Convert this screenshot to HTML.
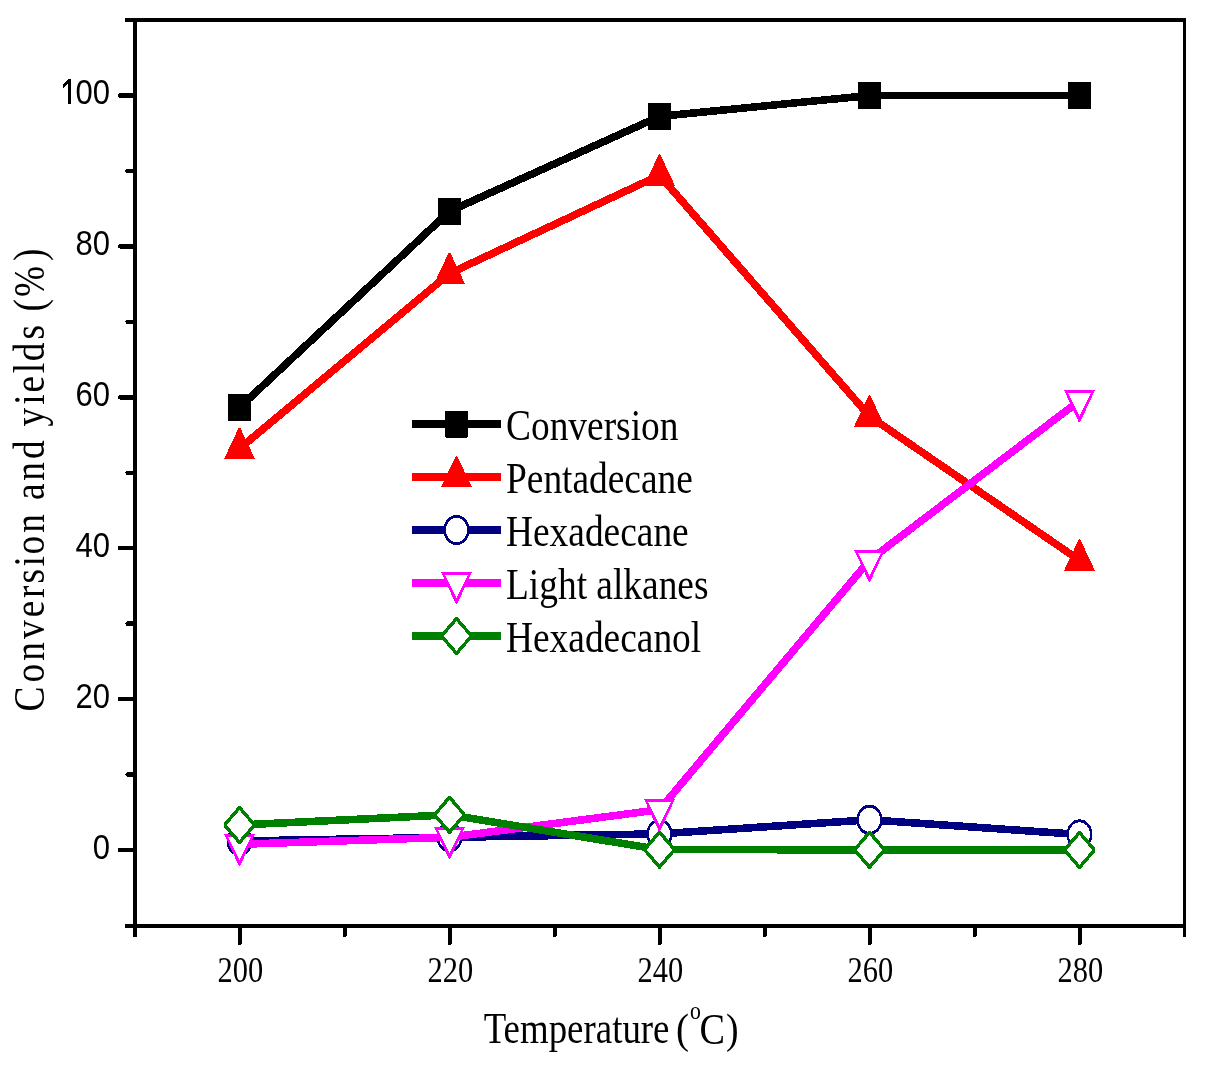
<!DOCTYPE html>
<html><head><meta charset="utf-8"><title>Conversion and yields vs Temperature</title>
<style>html,body{margin:0;padding:0;background:#fff;overflow:hidden}svg{display:block;will-change:transform}</style>
</head><body>
<svg shape-rendering="crispEdges" width="1205" height="1073" viewBox="0 0 1205 1073">
<rect x="133" y="18" width="4" height="919" fill="#000"/>
<rect x="1183" y="18" width="3" height="919" fill="#000"/>
<rect x="125" y="18" width="1061" height="4" fill="#000"/>
<rect x="125" y="924" width="1061" height="4" fill="#000"/>
<line x1="120" y1="850" x2="135" y2="850" stroke="#000" stroke-width="4.4" stroke-linecap="round"/>
<line x1="120" y1="699.1" x2="135" y2="699.1" stroke="#000" stroke-width="4.4" stroke-linecap="round"/>
<line x1="120" y1="548.2" x2="135" y2="548.2" stroke="#000" stroke-width="4.4" stroke-linecap="round"/>
<line x1="120" y1="397.3" x2="135" y2="397.3" stroke="#000" stroke-width="4.4" stroke-linecap="round"/>
<line x1="120" y1="246.4" x2="135" y2="246.4" stroke="#000" stroke-width="4.4" stroke-linecap="round"/>
<line x1="120" y1="95.5" x2="135" y2="95.5" stroke="#000" stroke-width="4.4" stroke-linecap="round"/>
<line x1="127.5" y1="774.55" x2="135" y2="774.55" stroke="#000" stroke-width="4.4" stroke-linecap="round"/>
<line x1="127.5" y1="623.65" x2="135" y2="623.65" stroke="#000" stroke-width="4.4" stroke-linecap="round"/>
<line x1="127.5" y1="472.75" x2="135" y2="472.75" stroke="#000" stroke-width="4.4" stroke-linecap="round"/>
<line x1="127.5" y1="321.85" x2="135" y2="321.85" stroke="#000" stroke-width="4.4" stroke-linecap="round"/>
<line x1="127.5" y1="170.95" x2="135" y2="170.95" stroke="#000" stroke-width="4.4" stroke-linecap="round"/>
<line x1="240" y1="926" x2="240" y2="943" stroke="#000" stroke-width="4" stroke-linecap="round"/>
<line x1="450" y1="926" x2="450" y2="943" stroke="#000" stroke-width="4" stroke-linecap="round"/>
<line x1="660" y1="926" x2="660" y2="943" stroke="#000" stroke-width="4" stroke-linecap="round"/>
<line x1="870" y1="926" x2="870" y2="943" stroke="#000" stroke-width="4" stroke-linecap="round"/>
<line x1="1080" y1="926" x2="1080" y2="943" stroke="#000" stroke-width="4" stroke-linecap="round"/>
<line x1="345" y1="926" x2="345" y2="935" stroke="#000" stroke-width="4" stroke-linecap="round"/>
<line x1="555" y1="926" x2="555" y2="935" stroke="#000" stroke-width="4" stroke-linecap="round"/>
<line x1="765" y1="926" x2="765" y2="935" stroke="#000" stroke-width="4" stroke-linecap="round"/>
<line x1="975" y1="926" x2="975" y2="935" stroke="#000" stroke-width="4" stroke-linecap="round"/>
<text transform="translate(110.1,858.6) scale(0.862,1)" text-anchor="end" font-family="Liberation Sans, sans-serif" font-size="36">0</text>
<text transform="translate(110.1,707.7) scale(0.862,1)" text-anchor="end" font-family="Liberation Sans, sans-serif" font-size="36">20</text>
<text transform="translate(110.1,556.8) scale(0.862,1)" text-anchor="end" font-family="Liberation Sans, sans-serif" font-size="36">40</text>
<text transform="translate(110.1,405.9) scale(0.862,1)" text-anchor="end" font-family="Liberation Sans, sans-serif" font-size="36">60</text>
<text transform="translate(110.1,255) scale(0.862,1)" text-anchor="end" font-family="Liberation Sans, sans-serif" font-size="36">80</text>
<text transform="translate(110.1,104.1) scale(0.862,1)" text-anchor="end" font-family="Liberation Sans, sans-serif" font-size="36">00</text>
<polygon fill="#000" points="71.2,79 71.2,104 68.2,104 68.2,83.2 62.8,88.2 62.8,85.2 68.8,79"/>
<text transform="translate(240.4,981.5) scale(0.847,1)" text-anchor="middle" font-family="Liberation Serif, serif" font-size="36">200</text>
<text transform="translate(450.4,981.5) scale(0.847,1)" text-anchor="middle" font-family="Liberation Serif, serif" font-size="36">220</text>
<text transform="translate(660.4,981.5) scale(0.847,1)" text-anchor="middle" font-family="Liberation Serif, serif" font-size="36">240</text>
<text transform="translate(870.4,981.5) scale(0.847,1)" text-anchor="middle" font-family="Liberation Serif, serif" font-size="36">260</text>
<text transform="translate(1080.4,981.5) scale(0.847,1)" text-anchor="middle" font-family="Liberation Serif, serif" font-size="36">280</text>
<text transform="translate(483.66,1043) scale(0.8385,1)" font-family="Liberation Serif, serif" font-size="44">Temperature</text>
<text transform="translate(676.1,1042.8) scale(0.93,1)" font-family="Liberation Serif, serif" font-size="42">(</text>
<text transform="translate(690.1,1018.5) scale(0.89,1)" font-family="Liberation Serif, serif" font-size="24.4">o</text>
<text transform="translate(699.5,1043.5) scale(0.85,1)" font-family="Liberation Serif, serif" font-size="45">C</text>
<text transform="translate(726,1042.8) scale(0.9,1)" font-family="Liberation Serif, serif" font-size="42">)</text>
<text transform="translate(43.8,711.5) rotate(-90) scale(0.85,1)" font-family="Liberation Serif, serif" font-size="44" x="0 34.13 59.72 85.31 110.9 133.61 150.65 170.57 184.79 210.37 235.96 248.75 271.47 297.06 322.64 335.44 361.02 375.24 397.96 412.18 437.76 457.68 470.47 487.51 530.14">Conversion and yields (%)</text>
<polyline fill="none" stroke="#000" stroke-width="7.6" stroke-linejoin="round" stroke-linecap="round" points="239.5,407.5 449.5,211.3 659.5,116.4 869.5,95.5 1079.5,95.5"/>
<rect x="228" y="394" width="23" height="27" rx="1" fill="#000"/>
<rect x="438" y="197.8" width="23" height="27" rx="1" fill="#000"/>
<rect x="648" y="102.9" width="23" height="27" rx="1" fill="#000"/>
<rect x="858" y="82" width="23" height="27" rx="1" fill="#000"/>
<rect x="1068" y="82" width="23" height="27" rx="1" fill="#000"/>
<polyline fill="none" stroke="#f00" stroke-width="7.6" stroke-linejoin="round" stroke-linecap="round" points="239.5,448.6 449.5,273.5 659.5,175.3 869.5,416.2 1079.5,560.3"/>
<polygon fill="#f00" points="238.8,427.6 240.2,427.6 255,459 224,459"/>
<polygon fill="#f00" points="448.8,252.5 450.2,252.5 465,283.9 434,283.9"/>
<polygon fill="#f00" points="658.8,154.3 660.2,154.3 675,185.7 644,185.7"/>
<polygon fill="#f00" points="868.8,395.2 870.2,395.2 885,426.6 854,426.6"/>
<polygon fill="#f00" points="1078.8,539.3 1080.2,539.3 1095,570.7 1064,570.7"/>
<polyline fill="none" stroke="#000080" stroke-width="7.6" stroke-linejoin="round" stroke-linecap="round" points="239.5,841 449.5,837.3 659.5,833.9 869.5,819.8 1079.5,834.5"/>
<ellipse cx="239.5" cy="841" rx="13" ry="15.1" fill="#000080"/><ellipse cx="239.5" cy="841" rx="10.6" ry="12.1" fill="#fff"/>
<ellipse cx="449.5" cy="837.3" rx="13" ry="15.1" fill="#000080"/><ellipse cx="449.5" cy="837.3" rx="10.6" ry="12.1" fill="#fff"/>
<ellipse cx="659.5" cy="833.9" rx="13" ry="15.1" fill="#000080"/><ellipse cx="659.5" cy="833.9" rx="10.6" ry="12.1" fill="#fff"/>
<ellipse cx="869.5" cy="819.8" rx="13" ry="15.1" fill="#000080"/><ellipse cx="869.5" cy="819.8" rx="10.6" ry="12.1" fill="#fff"/>
<ellipse cx="1079.5" cy="834.5" rx="13" ry="15.1" fill="#000080"/><ellipse cx="1079.5" cy="834.5" rx="10.6" ry="12.1" fill="#fff"/>
<polyline fill="none" stroke="#f0f" stroke-width="7.6" stroke-linejoin="round" stroke-linecap="round" points="239.5,844.3 449.5,837.3 659.5,809.7 869.5,560.2 1079.5,400.7"/>
<polygon fill="#f0f" points="224,833.6 255,833.6 240.2,865.8 238.8,865.8"/><polygon fill="#fff" points="227.95,836.8 251.05,836.8 239.5,859.9"/>
<polygon fill="#f0f" points="434,826.6 465,826.6 450.2,858.8 448.8,858.8"/><polygon fill="#fff" points="437.95,829.8 461.05,829.8 449.5,852.9"/>
<polygon fill="#f0f" points="644,799 675,799 660.2,831.2 658.8,831.2"/><polygon fill="#fff" points="647.95,802.2 671.05,802.2 659.5,825.3"/>
<polygon fill="#f0f" points="854,549.5 885,549.5 870.2,581.7 868.8,581.7"/><polygon fill="#fff" points="857.95,552.7 881.05,552.7 869.5,575.8"/>
<polygon fill="#f0f" points="1064,390 1095,390 1080.2,422.2 1078.8,422.2"/><polygon fill="#fff" points="1067.95,393.2 1091.05,393.2 1079.5,416.3"/>
<polyline fill="none" stroke="#008000" stroke-width="7.6" stroke-linejoin="round" stroke-linecap="round" points="239.5,825 449.5,814.8 659.5,849.6 869.5,849.8 1079.5,850"/>
<polygon fill="#008000" points="238.5,806 240.5,806 255,823 255,827 240.5,844 238.5,844 224,827 224,823"/><polygon fill="#fff" points="239.5,810.3 252.3,825 239.5,839.7 226.7,825"/>
<polygon fill="#008000" points="448.5,795.8 450.5,795.8 465,812.8 465,816.8 450.5,833.8 448.5,833.8 434,816.8 434,812.8"/><polygon fill="#fff" points="449.5,800.1 462.3,814.8 449.5,829.5 436.7,814.8"/>
<polygon fill="#008000" points="658.5,830.6 660.5,830.6 675,847.6 675,851.6 660.5,868.6 658.5,868.6 644,851.6 644,847.6"/><polygon fill="#fff" points="659.5,834.9 672.3,849.6 659.5,864.3 646.7,849.6"/>
<polygon fill="#008000" points="868.5,830.8 870.5,830.8 885,847.8 885,851.8 870.5,868.8 868.5,868.8 854,851.8 854,847.8"/><polygon fill="#fff" points="869.5,835.1 882.3,849.8 869.5,864.5 856.7,849.8"/>
<polygon fill="#008000" points="1078.5,831 1080.5,831 1095,848 1095,852 1080.5,869 1078.5,869 1064,852 1064,848"/><polygon fill="#fff" points="1079.5,835.3 1092.3,850 1079.5,864.7 1066.7,850"/>
<rect x="412" y="420" width="89" height="8" fill="#000"/>
<rect x="445" y="410.5" width="23" height="27" rx="1" fill="#000"/>
<text transform="translate(506,439.7) scale(0.85,1)" font-family="Liberation Serif, serif" font-size="44">Conversion</text>
<rect x="412" y="473" width="89" height="8" fill="#f00"/>
<polygon fill="#f00" points="455.8,456 457.2,456 472,487.4 441,487.4"/>
<text transform="translate(506,492.65) scale(0.85,1)" font-family="Liberation Serif, serif" font-size="44">Pentadecane</text>
<rect x="412" y="526" width="89" height="8" fill="#000080"/>
<ellipse cx="456.5" cy="530" rx="13" ry="15.1" fill="#000080"/><ellipse cx="456.5" cy="530" rx="10.6" ry="12.1" fill="#fff"/>
<text transform="translate(506,545.6) scale(0.85,1)" font-family="Liberation Serif, serif" font-size="44">Hexadecane</text>
<rect x="412" y="578.5" width="89" height="8" fill="#f0f"/>
<polygon fill="#f0f" points="441,571.8 472,571.8 457.2,604 455.8,604"/><polygon fill="#fff" points="444.95,575 468.05,575 456.5,598.1"/>
<text transform="translate(506,598.55) scale(0.85,1)" font-family="Liberation Serif, serif" font-size="44">Light alkanes</text>
<rect x="412" y="632" width="89" height="8" fill="#008000"/>
<polygon fill="#008000" points="455.5,617 457.5,617 472,634 472,638 457.5,655 455.5,655 441,638 441,634"/><polygon fill="#fff" points="456.5,621.3 469.3,636 456.5,650.7 443.7,636"/>
<text transform="translate(506,651.5) scale(0.85,1)" font-family="Liberation Serif, serif" font-size="44">Hexadecanol</text>
</svg>
</body></html>
